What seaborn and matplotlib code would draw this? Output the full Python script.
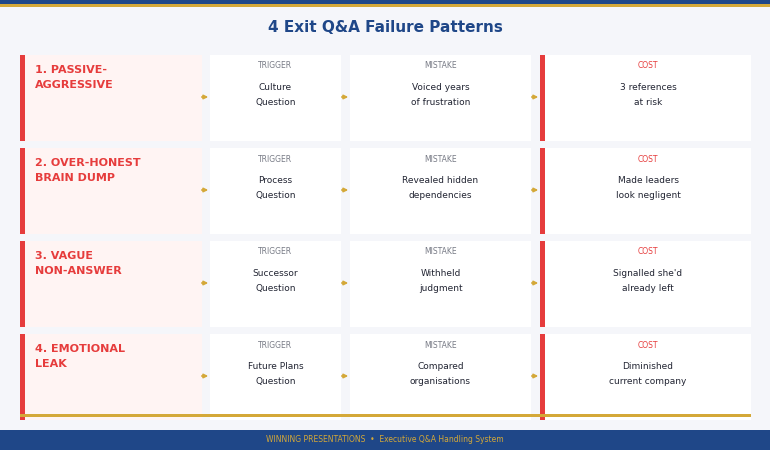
import matplotlib.pyplot as plt
import matplotlib.patches as mpatches
import seaborn as sns

# Conteúdo do infográfico
labels = ["1. PASSIVE-\nAGGRESSIVE", "2. OVER-HONEST\nBRAIN DUMP", "3. VAGUE\nNON-ANSWER", "4. EMOTIONAL\nLEAK"]
triggers = ["Culture\nQuestion", "Process\nQuestion", "Successor\nQuestion", "Future Plans\nQuestion"]
mistakes = ["Voiced years\nof frustration", "Revealed hidden\ndependencies", "Withheld\njudgment", "Compared\norganisations"]
costs = ["3 references\nat risk", "Made leaders\nlook negligent", "Signalled she'd\nalready left", "Diminished\ncurrent company"]
title = "4 Exit Q&A Failure Patterns"
footer = "WINNING PRESENTATIONS  •  Executive Q&A Handling System"

NAVY = "#1f4788"
GOLD = "#d4a838"
RED = "#e63c3c"
PINK = "#fff4f3"
BG = "#f5f6fa"

sns.set_theme(style="white")
plt.rcParams['font.family'] = ['DejaVu Sans']

fig = plt.figure(figsize=(7.7, 4.5), dpi=100, facecolor=BG)
ax = fig.add_axes([0, 0, 1, 1])
ax.set_xlim(0, 770)
ax.set_ylim(450, 0)
ax.set_axis_off()
ax.set_facecolor(BG)

def rect(x, y, w, h, c):
    ax.add_patch(mpatches.Rectangle((x, y), w, h, color=c, lw=0))

rect(0, 0, 770, 4, NAVY)
rect(0, 4, 770, 3, GOLD)
ax.text(385, 28, title, ha='center', va='center', fontsize=11, fontweight='bold', color=NAVY)

cols = [(210, 131, "TRIGGER", "#777a85", triggers),
        (350, 181, "MISTAKE", "#777a85", mistakes),
        (545, 206, "COST", RED, costs)]

for i, lab in enumerate(labels):
    y = 55 + i * 93
    h = 86
    rect(20, y, 5, h, RED)
    rect(25, y, 177, h, PINK)
    ax.text(35, y + 10, lab, ha='left', va='top', fontsize=8, fontweight='bold',
            color=RED, linespacing=1.6)
    rect(540, y, 5, h, RED)
    for x, w, head, hc, vals in cols:
        rect(x, y, w, h, "white")
        ax.text(x + w / 2, y + 11, head, ha='center', va='center', fontsize=5.5, color=hc)
        ax.text(x + w / 2, y + 40, vals[i], ha='center', va='center', fontsize=6.5,
                color="#222533", linespacing=1.8)
    for ax0 in (199, 339, 529):
        ax.annotate("", xy=(ax0 + 12, y + 42), xytext=(ax0, y + 42),
                    arrowprops=dict(arrowstyle='-|>', color=GOLD, lw=1.2, mutation_scale=6))

rect(20, 414, 731, 3, GOLD)
rect(0, 430, 770, 20, NAVY)
ax.text(385, 440, footer, ha='center', va='center', fontsize=5.5, color=GOLD)

fig.savefig("out.png", dpi=100, facecolor=BG)
